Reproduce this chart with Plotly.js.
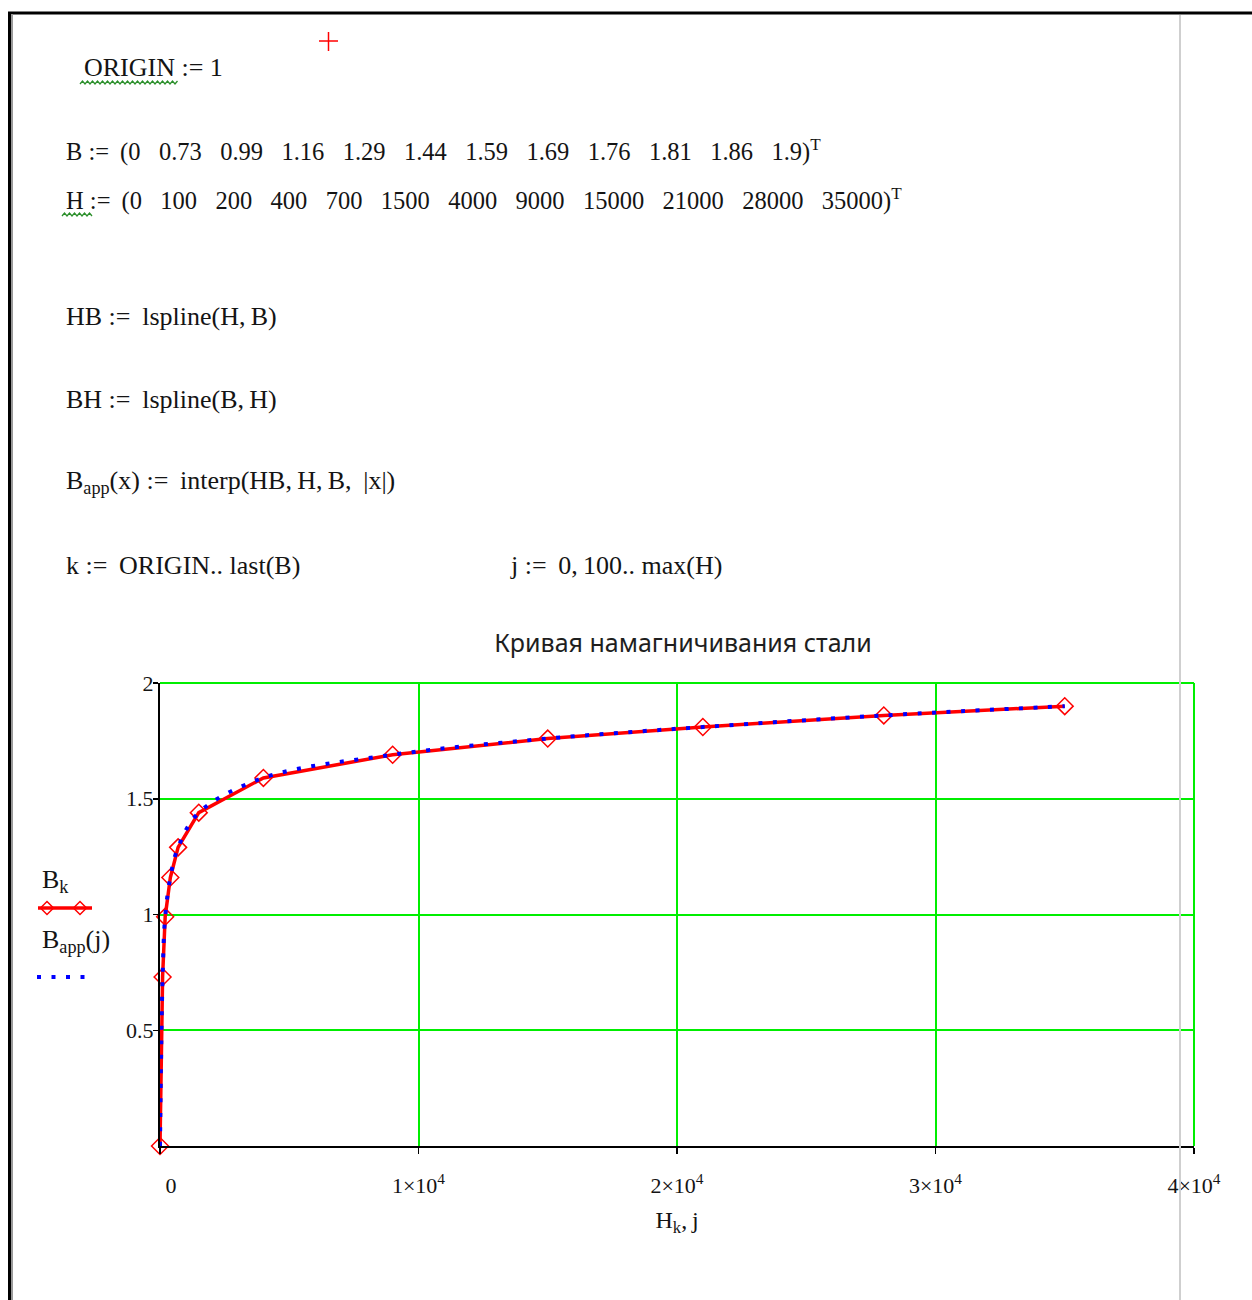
<!DOCTYPE html>
<html>
<head>
<meta charset="utf-8">
<script src="https://cdn.plot.ly/plotly-3.0.1.min.js"></script>
<style>
  html, body { margin: 0; padding: 0; background: #fff; }
  #chart { width: 1252px; height: 1300px; }
</style>
</head>
<body>
<div id="chart"></div>
<script>
// Magnetisation curve of steel: B (T) against H (A/m)
const B = [0, 0.73, 0.99, 1.16, 1.29, 1.44, 1.59, 1.69, 1.76, 1.81, 1.86, 1.9];
const H = [0, 100, 200, 400, 700, 1500, 4000, 9000, 15000, 21000, 28000, 35000];

const xTickVals = [0, 10000, 20000, 30000, 40000];
const yTickVals = [0.5, 1, 1.5, 2];
const xTickText = xTickVals.map(v => v === 0 ? '\u2002\u20020' : (v / 1e4) + '×10<sup>4</sup>');
const yTickText = yTickVals.map(v => String(v));

const titleText = 'Кривая намагничивания стали';

// page geometry of the plotting area
const W = 1252, HT = 1300;
const L = 160, R = 1194, T = 683, BOT = 1146;
const px = X => (X - L) / (R - L);
const py = Y => (BOT - Y) / (BOT - T);

const serif = 'Liberation Serif, Times New Roman, serif';
const ink = '#141414';
const nb = s => s.replace(/ /g, '\u00a0');
const thin = '\u2009';
const def = ' := ' + thin;   // Mathcad definition sign with its padding

// worksheet text lines
const gap = '   ';
const bLine = 'B' + def + '(' + B.join(gap) + ')<sup>T</sup>';
const hLine = 'H' + def + '(' + H.join(gap) + ')<sup>T</sup>';

function txt(text, X, Y, size) {
  return {
    text: nb(text), xref: 'paper', yref: 'paper', x: px(X), y: py(Y),
    xanchor: 'left', yanchor: 'middle', showarrow: false,
    font: { family: serif, size: size || 26, color: ink }
  };
}

const annotations = [
  txt('ORIGIN := 1', 82, 67),
  txt(bLine, 64, 150, 24.5),
  txt(hLine, 64, 199, 24.5),
  txt('HB' + def + 'lspline(H,' + thin + 'B)', 64, 316),
  txt('BH' + def + 'lspline(B,' + thin + 'H)', 64, 399),
  txt('B<sub>app</sub>(x)' + def + 'interp(HB,' + thin + 'H,' + thin + 'B,' + thin + ' |x|)', 64, 482),
  txt('k' + def + 'ORIGIN.. last(B)', 64, 565),
  txt('j' + def + '0,' + thin + '100.. max(H)', 508, 565),
  txt('B<sub>k</sub>', 40, 881),
  txt('B<sub>app</sub>(j)', 40, 941)
];

// squiggly underline path (page pixels -> paper coords)
function squiggle(x0, x1, y) {
  let d = 'M' + px(x0) + ',' + py(y);
  let up = true;
  for (let x = x0 + 2.5; x <= x1; x += 2.5) {
    d += ' L' + px(x) + ',' + py(up ? y - 3 : y);
    up = !up;
  }
  return { type: 'path', xref: 'paper', yref: 'paper', path: d,
           line: { color: '#2a8f2a', width: 1.3 }, layer: 'above' };
}

function seg(x0, y0, x1, y1, color, width, dash) {
  return { type: 'line', xref: 'paper', yref: 'paper',
           x0: px(x0), y0: py(y0), x1: px(x1), y1: py(y1),
           line: { color: color, width: width, dash: dash || 'solid' }, layer: 'above' };
}

function diamond(cx, cy, r) {
  const p = (X, Y) => px(X) + ',' + py(Y);
  return { type: 'path', xref: 'paper', yref: 'paper',
           path: 'M' + p(cx, cy - r) + ' L' + p(cx + r, cy) + ' L' + p(cx, cy + r) + ' L' + p(cx - r, cy) + ' Z',
           line: { color: '#ff0000', width: 1.5 }, fillcolor: 'rgba(0,0,0,0)', layer: 'above' };
}

const shapes = [
  // grid lines along the far edges of the plotting area
  { type: 'line', xref: 'paper', yref: 'paper', x0: 0, x1: 1, y0: 1, y1: 1,
    line: { color: '#00ee00', width: 2 }, layer: 'below' },
  { type: 'line', xref: 'paper', yref: 'paper', x0: 1, x1: 1, y0: 0, y1: 1,
    line: { color: '#00ee00', width: 2 }, layer: 'below' },
  // worksheet frame
  seg(8, 13, 1252, 13, '#000', 3),
  seg(9.5, 12, 9.5, 1300, '#000', 3),
  seg(12, 14, 12, 1300, '#9a9a9a', 2),
  seg(1180, 15, 1180, 1300, '#cfcfcf', 2),
  // insertion cursor
  seg(319, 41, 338, 41, '#ff0000', 1.5),
  seg(328.5, 32, 328.5, 51, '#ff0000', 1.5),
  squiggle(80, 178, 84),
  squiggle(62, 92, 216),
  // legend keys
  seg(38, 908, 92, 908, '#ff0000', 3.5),
  diamond(47, 908, 6.5),
  diamond(80, 908, 6.5),
  seg(37, 977, 86, 977, '#0000ff', 4, '4px,10.5px')
];

const traces = [
  {
    x: H, y: B, type: 'scatter', mode: 'lines+markers', name: 'B_k',
    line: { color: '#ff0000', width: 3.5 },
    marker: { symbol: 'diamond-open', size: 13, color: '#ff0000', line: { width: 1.5, color: '#ff0000' } },
    cliponaxis: false
  },
  {
    x: H, y: B, type: 'scatter', mode: 'lines', name: 'B_app(j)',
    line: { color: '#0000ff', width: 4, dash: '4px,10.5px', shape: 'spline', smoothing: 1 },
    cliponaxis: false
  }
];

const layout = {
  width: W, height: HT,
  paper_bgcolor: '#fff', plot_bgcolor: '#fff',
  margin: { l: L, r: W - R, t: T, b: HT - BOT, pad: 0 },
  showlegend: false,
  title: {
    text: titleText, xref: 'container', yref: 'container',
    x: 683 / W, y: 1 - 643 / HT, xanchor: 'center', yanchor: 'middle',
    font: { family: 'Noto Sans, Open Sans, sans-serif', size: 25, color: '#1e1e1e' }
  },
  xaxis: {
    range: [0, 40000], fixedrange: true,
    tickvals: xTickVals, ticktext: xTickText,
    showgrid: true, gridcolor: '#00ee00', gridwidth: 2,
    zeroline: false, showline: true, linecolor: '#000', linewidth: 2,
    ticks: 'outside', ticklen: 6, tickwidth: 1.5, tickcolor: '#000',
    ticklabelstandoff: 13,
    tickfont: { family: serif, size: 22, color: ink },
    title: { text: 'H<sub>k</sub>,' + thin + 'j', standoff: 14, font: { family: serif, size: 24, color: ink } }
  },
  yaxis: {
    range: [0, 2], fixedrange: true,
    tickvals: yTickVals, ticktext: yTickText,
    showgrid: true, gridcolor: '#00ee00', gridwidth: 2,
    zeroline: false, showline: true, linecolor: '#000', linewidth: 2,
    ticks: 'outside', ticklen: 5, tickwidth: 1.5, tickcolor: '#000',
    ticklabelstandoff: -5,
    tickfont: { family: serif, size: 22, color: ink }
  },
  annotations: annotations,
  shapes: shapes
};

Plotly.newPlot('chart', traces, layout, { staticPlot: true, displayModeBar: false });
</script>
</body>
</html>
